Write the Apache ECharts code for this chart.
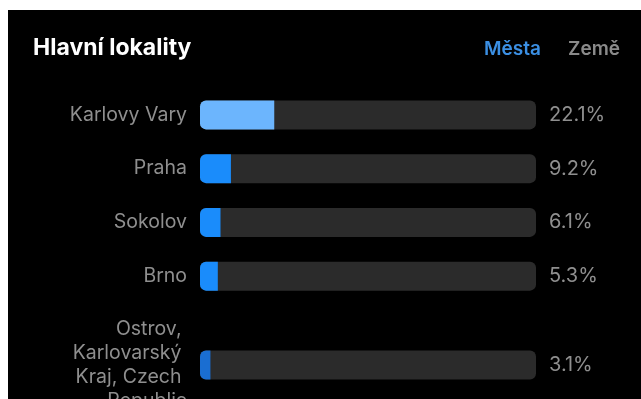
<!DOCTYPE html>
<html>
<head>
<meta charset="utf-8">
<script src="https://cdn.jsdelivr.net/npm/echarts@6/dist/echarts.min.js"></script>
<style>
html,body{margin:0;padding:0;background:#fff;width:641px;height:399px;overflow:hidden;}
#c{position:absolute;left:8px;top:10px;width:633px;height:389px;background:#000;}
</style>
</head>
<body>
<div id="c"></div>
<script>
const categories = ['Karlovy Vary', 'Praha', 'Sokolov', 'Brno', 'Ostrov, Karlovarský Kraj, Czech Republic'];
const values = [22.1, 9.2, 6.1, 5.3, 3.1];
const percentLabels = ['22.1%', '9.2%', '6.1%', '5.3%', '3.1%'];
const titleText = 'Hlavní lokality';
const tabLabels = ['Města', 'Země'];

const fillColors = ['#6cb5fd', '#1a8cfb', '#1a8cfb', '#1a8cfb', '#1a6ed2'];
const FONT = 'Inter, Roboto, sans-serif';
const GREY = '#8f8f8f';

const topCats = categories.slice(0, 4), botCats = categories.slice(4);
const topVals = values.slice(0, 4), botVals = values.slice(4);
const topPct = percentLabels.slice(0, 4), botPct = percentLabels.slice(4);

const chart = echarts.init(document.getElementById('c'), null, {renderer: 'canvas'});

function barSeries(vals, gi, offset) {
  return {
    type: 'bar',
    xAxisIndex: gi, yAxisIndex: gi * 2,
    data: vals.map((v, i) => ({value: v, itemStyle: {color: fillColors[offset + i]}})),
    barWidth: 29,
    itemStyle: {borderRadius: [6, 0, 0, 6]},
    showBackground: true,
    backgroundStyle: {color: '#2b2b2b', borderRadius: 6},
    silent: true,
    animation: false
  };
}

function leftAxis(cats, gi) {
  return {
    type: 'category', gridIndex: gi, data: cats, inverse: true, position: 'left',
    axisLine: {show: false}, axisTick: {show: false}, splitLine: {show: false},
    axisLabel: {color: GREY, fontSize: 19.5, fontFamily: FONT, margin: 13, lineHeight: 24}
  };
}
function rightAxis(labels, gi) {
  return {
    type: 'category', gridIndex: gi, data: labels, inverse: true, position: 'right',
    axisLine: {show: false}, axisTick: {show: false}, splitLine: {show: false},
    axisLabel: {color: GREY, fontSize: 20, fontFamily: FONT, margin: 13, align: 'left'}
  };
}

const botLeft = leftAxis(botCats, 1);
botLeft.axisLabel = Object.assign({}, botLeft.axisLabel, {width: 125, overflow: 'break'});

chart.setOption({
  backgroundColor: '#000',
  animation: false,
  grid: [
    {left: 192, right: 105, top: 78, height: 215, outerBoundsMode: 'none', containLabel: false},
    {left: 192, right: 105, top: 328, height: 54, outerBoundsMode: 'none', containLabel: false}
  ],
  xAxis: [
    {type: 'value', gridIndex: 0, min: 0, max: 100, show: false},
    {type: 'value', gridIndex: 1, min: 0, max: 100, show: false}
  ],
  yAxis: [
    leftAxis(topCats, 0), rightAxis(topPct, 0),
    botLeft, rightAxis(botPct, 1)
  ],
  series: [barSeries(topVals, 0, 0), barSeries(botVals, 1, 4)],
  graphic: [
    {type: 'text', left: 25, top: 27, style: {text: titleText, fill: '#ffffff', font: 'bold 23px ' + FONT}},
    {type: 'text', left: 476, top: 30, style: {text: tabLabels[0], fill: '#3b8fe3', font: '600 19px ' + FONT}},
    {type: 'text', left: 560, top: 30, style: {text: tabLabels[1], fill: '#8a8a8a', font: '600 19px ' + FONT}}
  ]
});
</script>
</body>
</html>
